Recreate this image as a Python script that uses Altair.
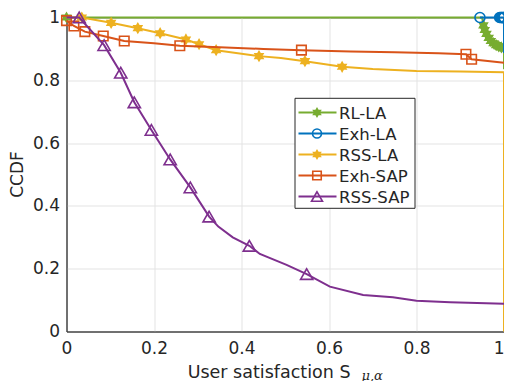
import altair as alt
import pandas as pd

# ---------------- data ----------------
series_names = ["RL-LA", "Exh-LA", "RSS-LA", "Exh-SAP", "RSS-SAP"]
series_colors = ["#77AC30", "#0072BD", "#EDB120", "#D95319", "#7E2F8E"]

rl_x = [0, 0.95, 0.953, 0.956, 0.96, 0.965, 0.97, 0.976, 0.982, 0.988, 0.994, 1.0, 1.0]
rl_y = [1, 1, 0.975, 0.96, 0.948, 0.935, 0.925, 0.918, 0.912, 0.908, 0.905, 0.902, 0.835]
rl_mark = [0, 2, 3, 4, 5, 6, 7, 8, 9, 10, 11]

exh_la_x = [0.945, 0.99, 0.992, 0.994, 0.996, 0.998, 1.0, 1.0]
exh_la_y = [1, 1, 1, 1, 1, 1, 1, 0.887]
exh_la_mark = [0, 1, 2, 3, 4, 5, 6]

rss_la_x = [0, 0.035, 0.102, 0.163, 0.214, 0.273, 0.303, 0.342, 0.44, 0.49, 0.545, 0.63,
            0.70, 0.80, 0.90, 1.0, 1.0]
rss_la_y = [1, 1, 0.983, 0.966, 0.95, 0.93, 0.915, 0.896, 0.877, 0.871, 0.861, 0.843,
            0.836, 0.83, 0.828, 0.826, 0]
rss_la_mark = [1, 2, 3, 4, 5, 6, 7, 8, 10, 11]

exh_sap_x = [0, 0.017, 0.042, 0.084, 0.132, 0.2, 0.259, 0.35, 0.45, 0.537, 0.65, 0.75,
             0.85, 0.913, 0.926, 1.0]
exh_sap_y = [0.99, 0.973, 0.955, 0.941, 0.925, 0.918, 0.91, 0.905, 0.9, 0.896, 0.892,
             0.889, 0.886, 0.883, 0.867, 0.856]
exh_sap_mark = [0, 1, 2, 3, 4, 6, 9, 13, 14]

rss_sap_x = [0, 0.029, 0.086, 0.124, 0.155, 0.194, 0.237, 0.283, 0.326, 0.347, 0.38,
             0.418, 0.442, 0.503, 0.549, 0.602, 0.678, 0.746, 0.80, 0.877, 1.0]
rss_sap_y = [1, 1, 0.912, 0.824, 0.73, 0.642, 0.548, 0.459, 0.366, 0.334, 0.30,
             0.273, 0.247, 0.212, 0.183, 0.143, 0.116, 0.109, 0.098, 0.093, 0.088]
rss_sap_mark = [1, 2, 3, 4, 5, 6, 7, 8, 11, 14]

tick_values = [0, 0.2, 0.4, 0.6, 0.8, 1]

# ---------------- styling ----------------
FONT = "DejaVu Sans"
HEXAGRAM = ("M0,-1L0.289,-0.5L0.866,-0.5L0.577,0L0.866,0.5L0.289,0.5L0,1L-0.289,0.5"
            "L-0.866,0.5L-0.577,0L-0.866,-0.5L-0.289,-0.5Z")
shapes = [HEXAGRAM, "circle", HEXAGRAM, "square", "triangle-up"]
filled = [True, False, True, False, False]
sizes = [150, 100, 150, 90, 150]

xscale = alt.Scale(domain=[0, 1], nice=False, zero=False)
yscale = alt.Scale(domain=[0, 1], nice=False, zero=False)
axis_common = dict(values=tick_values, format="~g", title=None, grid=True,
                   gridColor="#e3e3e3", gridWidth=1, labelFontSize=17, labelFont=FONT,
                   labelColor="#262626", domainColor="#262626", domainWidth=1,
                   ticks=False, labelFlush=False, labelOverlap=False)
xaxis = alt.Axis(labelPadding=9,
                 labelAlign={"expr": "datum.value == 1 ? 'right' : 'center'"},
                 **axis_common)
yaxis = alt.Axis(labelPadding=7, **axis_common)

all_x = [rl_x, exh_la_x, rss_la_x, exh_sap_x, rss_sap_x]
all_y = [rl_y, exh_la_y, rss_la_y, exh_sap_y, rss_sap_y]
all_m = [rl_mark, exh_la_mark, rss_la_mark, exh_sap_mark, rss_sap_mark]

layers = []
for k in range(5):
    df = pd.DataFrame({"x": all_x[k], "y": all_y[k], "i": list(range(len(all_x[k])))})
    layers.append(
        alt.Chart(df).mark_line(color=series_colors[k], strokeWidth=2).encode(
            x=alt.X("x:Q", scale=xscale, axis=xaxis),
            y=alt.Y("y:Q", scale=yscale, axis=yaxis),
            order="i:Q",
        )
    )
    mdf = df.iloc[all_m[k]]
    pt = dict(shape=shapes[k], size=sizes[k], strokeWidth=1.6, opacity=1,
              color=series_colors[k], filled=filled[k])
    layers.append(
        alt.Chart(mdf).mark_point(**pt).encode(
            x=alt.X("x:Q", scale=xscale, axis=xaxis),
            y=alt.Y("y:Q", scale=yscale, axis=yaxis),
        )
    )

one = pd.DataFrame({"a": [0]})

# legend box
layers.append(
    alt.Chart(one).mark_rect(fill="white", stroke="#262626", strokeWidth=1).encode(
        x=alt.value(228.5), x2=alt.value(348.5), y=alt.value(80.8), y2=alt.value(190.8)
    )
)
for k in range(5):
    yy = 95 + 21 * k
    layers.append(
        alt.Chart(one).mark_rule(color=series_colors[k], strokeWidth=2).encode(
            x=alt.value(232), x2=alt.value(270), y=alt.value(yy)
        )
    )
    layers.append(
        alt.Chart(one).mark_point(shape=shapes[k], size=sizes[k] * 0.8, strokeWidth=1.6,
                                  opacity=1, color=series_colors[k], filled=filled[k]).encode(
            x=alt.value(250.5), y=alt.value(yy)
        )
    )
    layers.append(
        alt.Chart(one).mark_text(text=series_names[k], font=FONT, fontSize=16.5,
                                 color="#262626", align="left", baseline="middle").encode(
            x=alt.value(272.5), y=alt.value(yy + 1)
        )
    )

# axis titles
layers.append(
    alt.Chart(one).mark_text(text="CCDF", font=FONT, fontSize=17, color="#262626",
                             angle=270, align="center", baseline="middle").encode(
        x=alt.value(-49), y=alt.value(157)
    )
)
layers.append(
    alt.Chart(one).mark_text(text="User satisfaction S", font=FONT, fontSize=17.5,
                             color="#262626", align="right", baseline="alphabetic").encode(
        x=alt.value(284), y=alt.value(360)
    )
)
layers.append(
    alt.Chart(one).mark_text(text="μ,α", font="DejaVu Serif", fontSize=13,
                             fontStyle="italic", color="#262626", align="left",
                             baseline="alphabetic").encode(
        x=alt.value(295), y=alt.value(362)
    )
)

chart = alt.layer(*layers).properties(
    width=437.5, height=314,
    padding={"left": 58.5, "top": 9.5, "right": 0, "bottom": 49.5},
    autosize="none",
).configure_view(stroke="#262626", strokeWidth=1)

chart.save("out.html", embed_options={"renderer": "svg", "actions": False})
